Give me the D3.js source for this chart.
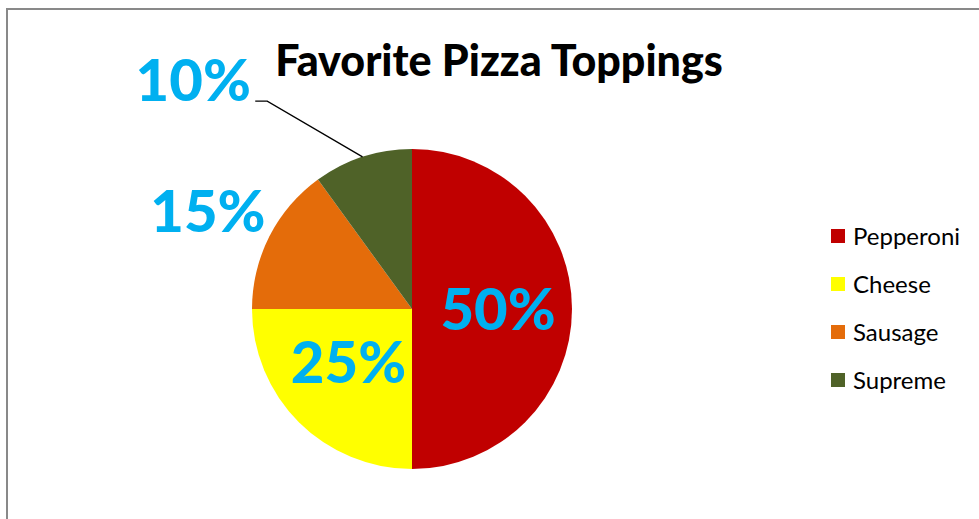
<!DOCTYPE html>
<html>
<head>
<meta charset="utf-8">
<script src="https://cdn.jsdelivr.net/npm/d3@7"></script>
<style>
  body { margin: 0; background: #fff; }
  svg { display: block; }
</style>
</head>
<body>
<div id="chart"></div>
<script>
const toppings = ["Pepperoni", "Cheese", "Sausage", "Supreme"];
const shares = [50, 25, 15, 10];
const sliceColors = ["#C00000", "#FFFF00", "#E46C0A", "#4F6228"];
const chartTitle = "Favorite Pizza Toppings";

const width = 979, height = 519;
const cx = 412, cy = 309, radius = 160;

const svg = d3.select("#chart").append("svg")
    .attr("width", width)
    .attr("height", height);

// chart area border (right and bottom edges fall outside the shot)
svg.append("rect")
    .attr("x", 7)
    .attr("y", 9)
    .attr("width", width + 20)
    .attr("height", height + 20)
    .attr("fill", "#fff")
    .attr("stroke", "#898989")
    .attr("stroke-width", 2);

svg.append("text")
    .attr("x", 499)
    .attr("y", 76)
    .attr("text-anchor", "middle")
    .attr("font-family", "Lato, 'Noto Sans', sans-serif")
    .attr("font-weight", 900)
    .attr("font-size", 43)
    .attr("fill", "#000")
    .text(chartTitle);

const pie = d3.pie().sort(null).value(d => d);
const arcs = pie(shares);

const arc = d3.arc().innerRadius(0).outerRadius(radius);

const g = svg.append("g").attr("transform", `translate(${cx},${cy})`);

g.selectAll("path.slice")
    .data(arcs)
    .enter().append("path")
    .attr("class", "slice")
    .attr("d", arc)
    .attr("fill", (d, i) => sliceColors[i]);

// label placement: inside for the big slices, outside for the small ones
const labelRadius = [86, 87, 229, 229];
const labelShift = [[0, 0], [-2, -8], [0, 6], [-148, -11]];

function labelPos(d, i) {
    const a = (d.startAngle + d.endAngle) / 2;
    const r = labelRadius[i];
    return [Math.sin(a) * r + labelShift[i][0], -Math.cos(a) * r + labelShift[i][1]];
}

// leader line for the dragged label
arcs.forEach((d, i) => {
    if (i !== 3) return;
    const a = (d.startAngle + d.endAngle) / 2;
    const edge = [Math.sin(a) * radius, -Math.cos(a) * radius];
    const p = labelPos(d, i);
    const y0 = p[1] + 21;
    const x0 = p[0] + 62;
    g.append("path")
        .attr("d", d3.line()([edge, [x0 + 12, y0], [x0, y0]]))
        .attr("fill", "none")
        .attr("stroke", "#000")
        .attr("stroke-width", 1.3);
});

g.selectAll("text.pct")
    .data(arcs)
    .enter().append("text")
    .attr("class", "pct")
    .attr("transform", (d, i) => `translate(${labelPos(d, i)})`)
    .attr("text-anchor", "middle")
    .attr("dy", "0.36em")
    .attr("font-family", "Lato, 'Noto Sans', sans-serif")
    .attr("font-weight", 900)
    .attr("font-size", 58)
    .attr("fill", "#00B0F0")
    .text(d => d.data + "%");

// legend
const legend = svg.append("g").attr("transform", "translate(831,236)");
const rows = legend.selectAll("g")
    .data(toppings)
    .enter().append("g")
    .attr("transform", (d, i) => `translate(0,${i * 48})`);

rows.append("rect")
    .attr("x", 0)
    .attr("y", -7)
    .attr("width", 14)
    .attr("height", 14)
    .attr("fill", (d, i) => sliceColors[i]);

rows.append("text")
    .attr("x", 22)
    .attr("y", 0)
    .attr("dy", "0.36em")
    .attr("font-family", "Lato, 'Noto Sans', sans-serif")
    .attr("font-size", 24)
    .attr("fill", "#000")
    .text(d => d);
</script>
</body>
</html>
